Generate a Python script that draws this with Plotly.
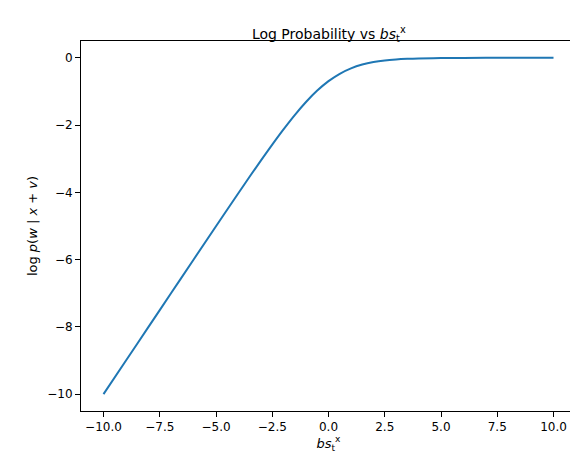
import plotly.graph_objects as go

# values
bs_values = [-10, -9, -8, -7, -6, -5, -4, -3.5, -3, -2.5, -2, -1.5, -1, -0.5, 0,
             0.5, 1, 1.5, 2, 2.5, 3, 3.5, 4, 5, 6, 7, 8, 9, 10]
log_prob = [-10.0, -9.0, -8.0, -7.001, -6.002, -5.007, -4.018, -3.53, -3.049, -2.579,
            -2.127, -1.701, -1.313, -0.974, -0.693, -0.474, -0.313, -0.201, -0.127,
            -0.079, -0.049, -0.030, -0.018, -0.0067, -0.0025, -0.0009, -0.0003, -0.0001, 0.0]

x_ticks = [-10.0, -7.5, -5.0, -2.5, 0.0, 2.5, 5.0, 7.5, 10.0]
y_ticks = [-10, -8, -6, -4, -2, 0]

fig = go.Figure()
fig.add_trace(go.Scatter(x=bs_values, y=log_prob, mode="lines",
                         line=dict(color="#1f77b4", width=2, shape="spline")))

axis_style = dict(showgrid=False, zeroline=False, showline=True, mirror=True,
                  linecolor="black", linewidth=1, ticks="outside", ticklen=5,
                  tickcolor="black", tickfont=dict(size=12, color="black"),
                  automargin=False)
fig.update_xaxes(range=[-11, 11], tickvals=x_ticks,
                 ticktext=[f"{v:.1f}".replace("-", "\u2212") for v in x_ticks],
                 title=dict(text="<i>bs</i><sub>t</sub><sup>x</sup>", standoff=4,
                            font=dict(size=13)), **axis_style)
fig.update_yaxes(range=[-10.5, 0.5], tickvals=y_ticks,
                 ticktext=[str(v).replace("-", "\u2212") for v in y_ticks],
                 title=dict(text="log <i>p</i>(<i>w</i> | <i>x</i> + <i>v</i>)", standoff=6,
                            font=dict(size=13)), **axis_style)

fig.update_layout(
    width=578, height=463,
    title=dict(text="Log Probability vs <i>bs</i><sub>t</sub><sup>x</sup>",
               x=0.555, xanchor="center", y=0.955, font=dict(size=14, color="black")),
    margin=dict(l=73, r=10, t=33, b=60),
    plot_bgcolor="white", paper_bgcolor="white",
    font=dict(family="DejaVu Sans", color="black"),
    showlegend=False,
)
fig.write_html("out.html")
